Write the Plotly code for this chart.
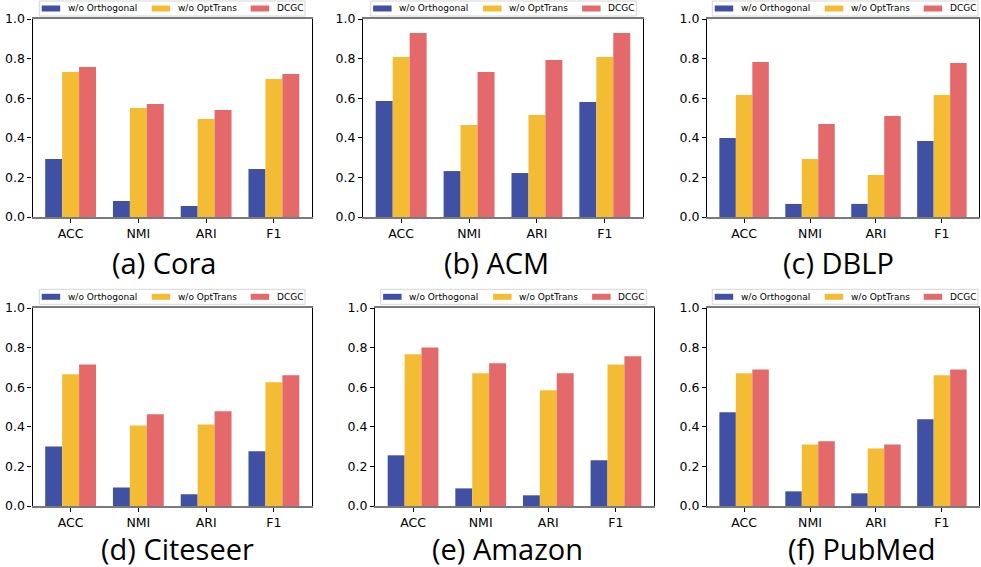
import plotly.graph_objects as go

metrics = ["ACC", "NMI", "ARI", "F1"]
series_names = ["w/o Orthogonal", "w/o OptTrans", "DCGC"]
datasets = ["(a) Cora", "(b) ACM", "(c) DBLP", "(d) Citeseer", "(e) Amazon", "(f) PubMed"]

cora_orth = [0.293, 0.081, 0.056, 0.242]
cora_opt = [0.732, 0.550, 0.495, 0.697]
cora_dcgc = [0.758, 0.571, 0.540, 0.722]

acm_orth = [0.586, 0.232, 0.222, 0.581]
acm_opt = [0.808, 0.465, 0.515, 0.808]
acm_dcgc = [0.929, 0.732, 0.793, 0.929]

dblp_orth = [0.399, 0.066, 0.066, 0.384]
dblp_opt = [0.616, 0.293, 0.212, 0.616]
dblp_dcgc = [0.783, 0.470, 0.510, 0.778]

cite_orth = [0.301, 0.094, 0.059, 0.276]
cite_opt = [0.665, 0.407, 0.412, 0.625]
cite_dcgc = [0.715, 0.463, 0.478, 0.660]

amaz_orth = [0.256, 0.089, 0.054, 0.231]
amaz_opt = [0.766, 0.670, 0.584, 0.715]
amaz_dcgc = [0.801, 0.721, 0.670, 0.756]

pub_orth = [0.473, 0.074, 0.064, 0.438]
pub_opt = [0.670, 0.311, 0.291, 0.660]
pub_dcgc = [0.690, 0.327, 0.311, 0.690]

all_data = [
    (cora_orth, cora_opt, cora_dcgc),
    (acm_orth, acm_opt, acm_dcgc),
    (dblp_orth, dblp_opt, dblp_dcgc),
    (cite_orth, cite_opt, cite_dcgc),
    (amaz_orth, amaz_opt, amaz_dcgc),
    (pub_orth, pub_opt, pub_dcgc),
]

colors = ["#4051A3", "#F4BC34", "#E3696A"]

W, H = 981, 567
# axis pixel boxes: (left, right, top, bottom)
boxes = [
    (32.5, 312, 19, 217),
    (363, 643, 19, 217),
    (707, 979, 19, 217),
    (32.5, 312, 308, 506),
    (375, 654, 308, 506),
    (707, 979, 308, 506),
]
# legend box: (left, top)
legend_boxes = [(39.3, 1), (370.7, 1), (712.3, 1),
                (39.3, 289.3), (380.7, 289.3), (712.3, 289.3)]
LEG_W, LEG_H = 265.7, 15
swatch_off = [2.4, 112.4, 211.4]
text_off = [27.4, 137.4, 236.7]
captions_pos = [(164, 262), (497, 262), (838, 262), (177, 548), (507, 548), (861, 548)]

def px(x):
    return x / W

def py(y):
    return 1 - y / H

fig = go.Figure()
shapes = []
annotations = []
layout = dict(
    width=W, height=H,
    margin=dict(l=0, r=0, t=0, b=0, autoexpand=False),
    paper_bgcolor="white", plot_bgcolor="white",
    barmode="group", bargap=0.25, bargroupgap=0,
    font=dict(family="DejaVu Sans", size=12, color="black"),
    showlegend=False,
)

for i, (vals, box, lb, cap) in enumerate(zip(all_data, boxes, legend_boxes, captions_pos)):
    n = i + 1
    xa = "x" if n == 1 else f"x{n}"
    ya = "y" if n == 1 else f"y{n}"
    for s, (name, col, v) in enumerate(zip(series_names, colors, vals)):
        fig.add_trace(go.Bar(
            x=metrics, y=v, name=name, marker=dict(color=col, line=dict(width=0)),
            xaxis=xa, yaxis=ya, showlegend=False,
        ))
    l, r, t, b = box
    layout["xaxis" if n == 1 else f"xaxis{n}"] = dict(
        domain=[px(l), px(r)], anchor=ya, automargin=False,
        range=[-0.5625, 3.5625],
        showline=True, linecolor="#7a7a7a", linewidth=2, mirror=True,
        ticks="outside", ticklen=4, tickcolor="black",
        showgrid=False, zeroline=False,
        tickfont=dict(size=12.5, family="DejaVu Sans", color="black"),
    )
    layout["yaxis" if n == 1 else f"yaxis{n}"] = dict(
        domain=[py(b), py(t)], anchor=xa, automargin=False,
        range=[0, 1.0],
        tickvals=[0, 0.2, 0.4, 0.6, 0.8, 1.0],
        ticktext=["0.0", "0.2", "0.4", "0.6", "0.8", "1.0"],
        showline=True, linecolor="black", linewidth=1.2, mirror=True,
        ticks="outside", ticklen=4, tickcolor="black",
        showgrid=False, zeroline=False,
        tickfont=dict(size=12.5, family="DejaVu Sans", color="black"),
    )
    # legend drawn as a box with swatches and real text labels
    L, T = lb
    shapes.append(dict(type="rect", xref="paper", yref="paper",
                       x0=px(L), x1=px(L + LEG_W), y0=py(T + LEG_H), y1=py(T),
                       line=dict(color="#d6d6d6", width=1), fillcolor="white", layer="above"))
    cy = T + LEG_H / 2
    for s in range(3):
        shapes.append(dict(type="rect", xref="paper", yref="paper",
                           x0=px(L + swatch_off[s]), x1=px(L + swatch_off[s] + 18.5),
                           y0=py(cy + 3), y1=py(cy - 3),
                           line=dict(width=0), fillcolor=colors[s], layer="above"))
        annotations.append(dict(text=series_names[s], x=px(L + text_off[s]), y=py(cy),
                                xref="paper", yref="paper", xanchor="left", yanchor="middle",
                                showarrow=False, borderpad=0,
                                font=dict(size=9, family="DejaVu Sans", color="black")))
    annotations.append(dict(
        text=datasets[i], x=px(cap[0]), y=py(cap[1]), xref="paper", yref="paper",
        xanchor="center", yanchor="middle", showarrow=False,
        font=dict(size=29, family="Open Sans", color="black"),
    ))

layout["shapes"] = shapes
layout["annotations"] = annotations
fig.update_layout(**layout)
fig.write_html(
    "out.html",
    config={"displayModeBar": False},
    post_script="document.body.style.margin='0';document.body.style.padding='0';document.body.style.overflow='hidden';",
)
